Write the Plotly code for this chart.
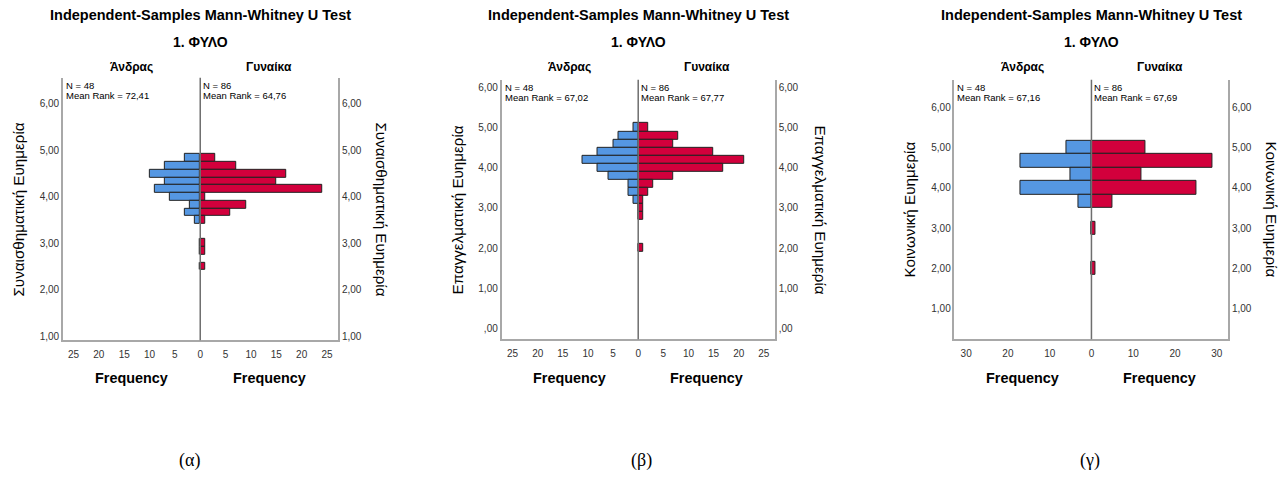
import plotly.graph_objects as go

# ── data ────────────────────────────────────────────────────────────────────
groups = ["Άνδρας", "Γυναίκα"]
n_counts = [48, 86]

emo_bins = [4.833, 4.667, 4.5, 4.333, 4.167, 4.0, 3.833, 3.667, 3.5, 3.0, 2.833, 2.5]
emo_men = [3, 7, 10, 7, 9, 6, 2, 3, 1, 0, 0, 0]
emo_women = [3, 7, 17, 15, 24, 1, 9, 6, 1, 1, 1, 1]
emo_ranks = ["72,41", "64,76"]

prof_bins = [5.0, 4.8, 4.6, 4.4, 4.2, 4.0, 3.8, 3.6, 3.4, 3.2, 3.0, 2.8, 2.0]
prof_men = [1, 4, 5, 8, 11, 8, 6, 2, 2, 1, 0, 0, 0]
prof_women = [2, 8, 7, 15, 21, 17, 7, 3, 2, 1, 1, 1, 1]
prof_ranks = ["67,02", "67,77"]

soc_bins = [5.0, 4.667, 4.333, 4.0, 3.667, 3.0, 2.0]
soc_men = [6, 17, 5, 17, 3, 0, 0]
soc_women = [13, 29, 12, 25, 5, 1, 1]
soc_ranks = ["67,16", "67,69"]

y_titles = ["Συναισθηματική Ευημερία", "Επαγγελματική Ευημερία", "Κοινωνική Ευημερία"]
captions = ["(α)", "(β)", "(γ)"]

BLUE = "#5597e2"
RED = "#d2003c"
FRAME = "#a8a8a8"
FONT = "Liberation Sans, Arial, sans-serif"
W, H = 1286, 478

# layout of each panel in pixels: left edge, centre line, right edge, top, bottom
panels = [
    dict(bins=emo_bins, men=emo_men, women=emo_women, ranks=emo_ranks, bw=0.1667,
         px=(63, 200.7, 339), py=(78, 341), yr=[0.91, 6.56],
         yticks=[1, 2, 3, 4, 5, 6], xr=(27.1, 27.2), xt=[5, 10, 15, 20, 25],
         ylt_x=19, yrt_x=382, cap_x=190),
    dict(bins=prof_bins, men=prof_men, women=prof_women, ranks=prof_ranks, bw=0.2,
         px=(502.7, 639.7, 776.7), py=(80, 340), yr=[-0.265, 6.18],
         yticks=[0, 1, 2, 3, 4, 5, 6], xr=(27.2, 27.2), xt=[5, 10, 15, 20, 25],
         ylt_x=459, yrt_x=822, cap_x=643),
    dict(bins=soc_bins, men=soc_men, women=soc_women, ranks=soc_ranks, bw=0.3333,
         px=(956.7, 1094, 1231), py=(80, 340), yr=[0.24, 6.68],
         yticks=[1, 2, 3, 4, 5, 6], xr=(32.8, 32.7), xt=[10, 20, 30],
         ylt_x=912, yrt_x=1274, cap_x=1093),
]


def fx(p):
    return p / W


def fy(p):
    return 1 - p / H


def fmt(v):
    return ",00" if v == 0 else f"{v},00"


fig = go.Figure()
layout = dict(
    width=W, height=H, margin=dict(l=0, r=0, t=0, b=0),
    paper_bgcolor="white", plot_bgcolor="white", showlegend=False,
    font=dict(family=FONT, color="#000"), bargap=0,
)
annotations = []
shapes = []

for i, p in enumerate(panels):
    left, mid, right = p["px"]
    top, bot = p["py"]
    ax_l, ax_r = 2 * i + 1, 2 * i + 2
    sfx_l = "" if ax_l == 1 else str(ax_l)
    sfx_r = str(ax_r)
    ydom = [fy(bot), fy(top)]
    tick_font = dict(size=10, color="#333", family=FONT)

    fig.add_trace(go.Bar(
        y=p["bins"], x=p["men"], orientation="h", width=p["bw"],
        marker=dict(color=BLUE, line=dict(color="#222", width=1)),
        xaxis="x" + sfx_l, yaxis="y" + sfx_l, hoverinfo="skip"))
    fig.add_trace(go.Bar(
        y=p["bins"], x=p["women"], orientation="h", width=p["bw"],
        marker=dict(color=RED, line=dict(color="#222", width=1)),
        xaxis="x" + sfx_r, yaxis="y" + sfx_r, hoverinfo="skip"))

    common_x = dict(showline=True, linecolor=FRAME, linewidth=1.5, showgrid=False,
                    zeroline=False, ticks="outside", ticklen=4, tickcolor="white",
                    tickfont=tick_font, fixedrange=True)
    common_y = dict(showline=True, linecolor=FRAME, linewidth=1.5, showgrid=False,
                    zeroline=False, ticks="", tickfont=tick_font, fixedrange=True,
                    domain=ydom, range=p["yr"], tickvals=p["yticks"],
                    ticktext=[fmt(v) for v in p["yticks"]])
    layout["xaxis" + sfx_l] = dict(
        domain=[fx(left), fx(mid)], range=[p["xr"][0], 0], anchor="y" + sfx_l,
        tickvals=[0] + p["xt"], ticktext=["0"] + [str(v) for v in p["xt"]], **common_x)
    layout["xaxis" + sfx_r] = dict(
        domain=[fx(mid), fx(right)], range=[0, p["xr"][1]], anchor="y" + sfx_r,
        tickvals=p["xt"], ticktext=[str(v) for v in p["xt"]], **common_x)
    layout["yaxis" + sfx_l] = dict(anchor="x" + sfx_l, **common_y)
    layout["yaxis" + sfx_r] = dict(anchor="x" + sfx_r, side="right", **common_y)

    # centre line between the two halves
    shapes.append(dict(type="line", xref="paper", yref="paper",
                       x0=fx(mid), x1=fx(mid), y0=fy(bot), y1=fy(top),
                       line=dict(color="#6e6e6e", width=1.5), layer="above"))

    def txt(x, y, text, size, bold=False, angle=0, xanchor="center", family=FONT):
        annotations.append(dict(
            x=fx(x), y=fy(y), xref="paper", yref="paper", text=text,
            showarrow=False, textangle=angle, xanchor=xanchor, yanchor="middle",
            font=dict(size=size, family=family, color="#000",
                      weight="bold" if bold else "normal")))

    txt(mid, 15, "Independent-Samples Mann-Whitney U Test", 14.5, bold=True)
    txt(mid, 42, "1. ΦΥΛΟ", 14, bold=True)
    txt((left + mid) / 2, 67, groups[0], 12, bold=True)
    txt((mid + right) / 2, 67, groups[1], 12, bold=True)
    txt((left + mid) / 2, 379, "Frequency", 14.4, bold=True)
    txt((mid + right) / 2, 379, "Frequency", 14.4, bold=True)
    for j, x0 in enumerate([left + 1, mid + 1]):
        txt(x0, top + 8, f"N = {n_counts[j]}", 9.5, xanchor="left")
        txt(x0, top + 18, f"Mean Rank = {p['ranks'][j]}", 9.5, xanchor="left")
    txt(p["ylt_x"], 210, y_titles[i], 15.2, angle=-90)
    txt(p["yrt_x"], 210, y_titles[i], 15.2, angle=90)
    txt(p["cap_x"], 461, captions[i], 18, family="Liberation Serif, Times New Roman, serif")

layout["annotations"] = annotations
layout["shapes"] = shapes
fig.update_layout(**layout)
fig.write_html("out.html", config={"displayModeBar": False},
               post_script="document.body.style.margin='0';"
               "document.body.style.overflow='hidden';")
